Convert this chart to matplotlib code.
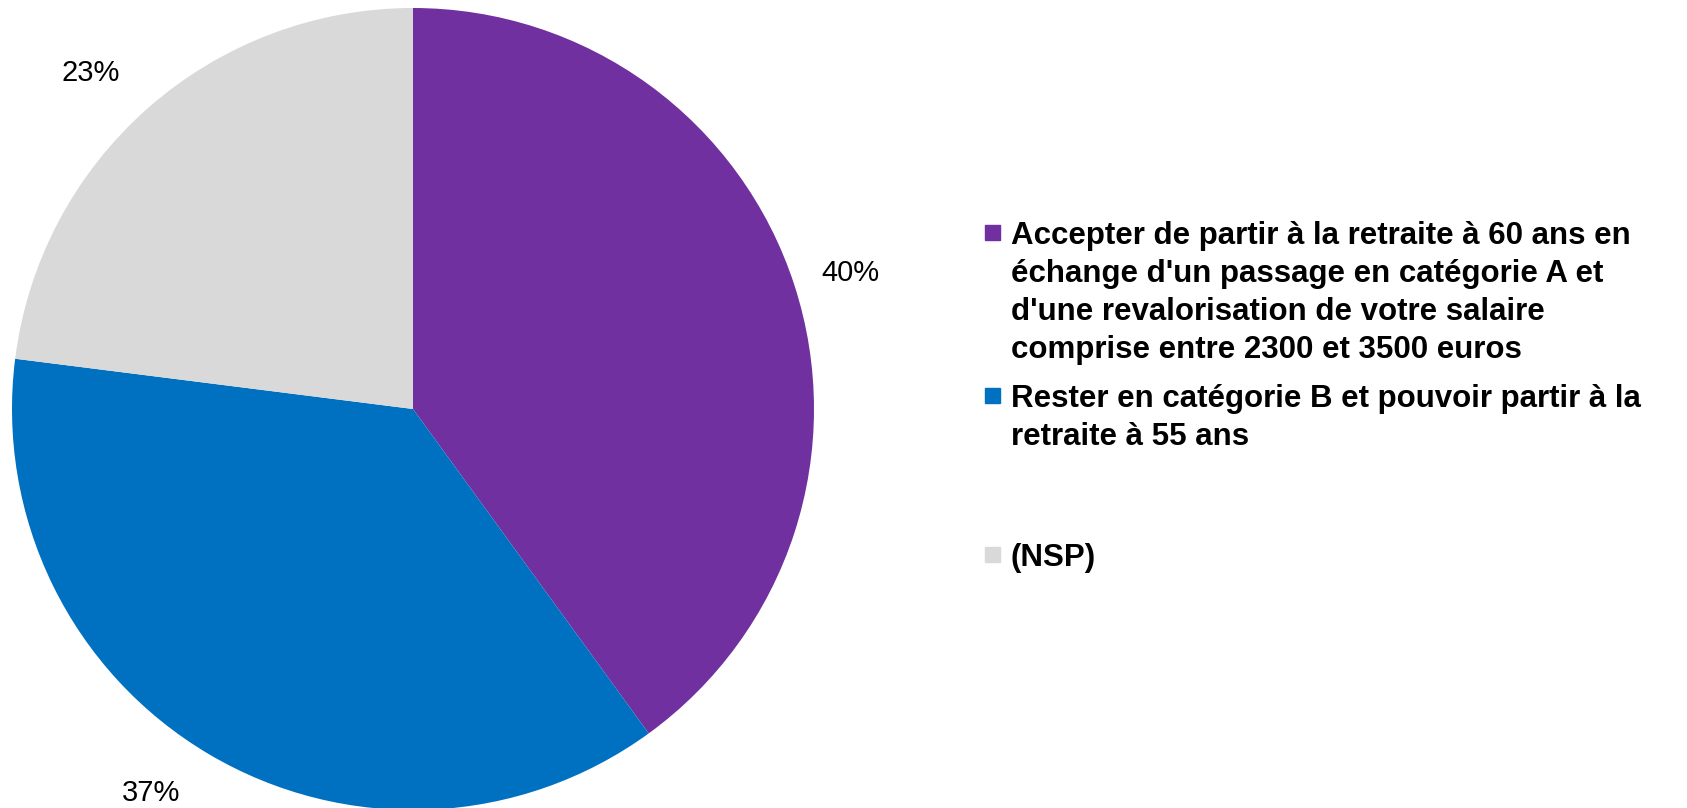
import matplotlib.pyplot as plt
from matplotlib.patches import Rectangle

# donnees du sondage
categories = [
    "Accepter de partir à la retraite à 60 ans en\néchange d'un passage en catégorie A et\nd'une revalorisation de votre salaire\ncomprise entre 2300 et 3500 euros",
    "Rester en catégorie B et pouvoir partir à la\nretraite à 55 ans",
    "(NSP)",
]
valeurs = [40, 37, 23]
couleurs = ["#7030A0", "#0070C0", "#D9D9D9"]

W, H = 1687, 808
fig = plt.figure(figsize=(W / 100, H / 100), dpi=100)

# camembert : centre (413, 409) px, rayon 401 px
cx, cy, r = 413, 409, 401
ax = fig.add_axes([(cx - r) / W, (H - cy - r) / H, 2 * r / W, 2 * r / H])
wedges, textes, pcts = ax.pie(valeurs, colors=couleurs, startangle=90, counterclock=False,
                              autopct="%d%%", radius=1,
                              wedgeprops=dict(linewidth=0),
                              textprops=dict(fontsize=21, color="black", family=["Liberation Sans", "DejaVu Sans"]))
# position des etiquettes comme dans l'original
pos_etiq = [(1.092, 0.338), (-0.653, -0.958), (-0.803, 0.838)]
for t, p in zip(pcts, pos_etiq):
    t.set_position(p)
    t.set_clip_on(False)
ax.set_xlim(-1, 1)
ax.set_ylim(-1, 1)
ax.set_aspect("equal")
ax.axis("off")

# legende faite a la main
leg_y = [232, 395, 554]
for i in range(len(categories)):
    y = leg_y[i]
    fig.patches.append(Rectangle((985 / W, (H - y - 8) / H), 15 / W, 15 / H,
                                 transform=fig.transFigure, color=couleurs[i]))
    fig.text(1011 / W, (H - y + 11) / H, categories[i], ha="left", va="top",
             fontsize=22.5, fontweight="bold", linespacing=1.35,
             family=["Liberation Sans", "DejaVu Sans"])

fig.savefig("out.png", dpi=100)
